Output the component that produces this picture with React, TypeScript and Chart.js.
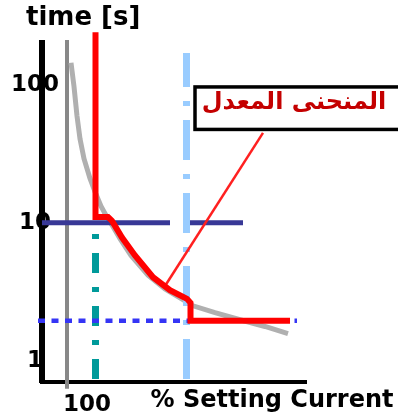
import React, { useEffect, useRef } from 'react';
import { Chart, registerables } from 'chart.js';

Chart.register(...registerables);

const FONT = 'DejaVu Sans';

// Axis ranges (x: % setting current, y: time in seconds, log)
const X_RANGE = [54.5, 319.5];
const Y_RANGE = [0.749, 201.7];
const X_TICKS = [100, 285];
const X_TICK_LABELS = ['100', '% Setting Current'];
const Y_TICKS = [1, 10, 100];
const Y_TICK_LABELS = ['1', '10', '100'];
const TITLE = 'time [s]';

// Modified (red) curve
const RED_X = [108.5, 108.5, 121, 125, 135, 148, 166, 183, 200, 203.5, 203.5, 303];
const RED_Y = [241.8, 11.04, 11.04, 10.33, 7.81, 5.8, 4.03, 3.25, 2.81, 2.63, 1.95, 1.95];

// Original inverse-time (grey) curve
const GRAY_X = [84, 87, 90, 93, 97, 103, 109, 114, 120, 126, 133, 144, 161, 178, 193, 206, 228, 253, 278, 301];
const GRAY_Y = [145, 97.5, 59.5, 40.7, 29.2, 21.0, 16.1, 13.2, 11.0, 9.36, 7.68, 5.8, 4.17, 3.31, 2.85, 2.5, 2.23, 1.98, 1.77, 1.57];

// Asymptote (grey vertical)
const ASYM_X = [80, 80];
const ASYM_Y = [0.625, 212];

// Teal dash-dot vertical
const TEAL_X = [108.5, 108.5];
const TEAL_Y = [0.737, 10];

// Light blue dash-dot vertical
const LBLUE_X = [199.5, 199.5];
const LBLUE_Y = [0.737, 171];

// Navy horizontal at 10 s (with small gap)
const NAVY_X = [55, 183, 192, 199, 256];
const NAVY_Y: (number | null)[] = [10, 10, null, 10, 10];

// Blue dotted horizontal
const DOT_X = [51, 310];
const DOT_Y = [1.95, 1.95];

// Pointer line from callout to curve
const ARROW_X = [276, 178];
const ARROW_Y = [44.9, 3.48];

// Callout box
const CALLOUT_X = [208, 440];
const CALLOUT_Y = [47.6, 96.8];
const CALLOUT_TEXT = 'المنحنى المعدل';
const CALLOUT_TEXT_AT = [307, 66.7];

const pts = (xs: number[], ys: (number | null)[]) => xs.map((x, i) => ({ x, y: ys[i] }));

const calloutPlugin = {
  id: 'callout',
  afterDatasetsDraw(chart: any) {
    const { ctx, scales } = chart;
    const x = scales.x;
    const y = scales.y;
    const l = x.getPixelForValue(CALLOUT_X[0]);
    const r = x.getPixelForValue(CALLOUT_X[1]);
    const t = y.getPixelForValue(CALLOUT_Y[1]);
    const b = y.getPixelForValue(CALLOUT_Y[0]);
    ctx.save();
    ctx.fillStyle = '#ffffff';
    ctx.fillRect(l, t, r - l, b - t);
    ctx.lineWidth = 3.5;
    ctx.strokeStyle = '#000000';
    ctx.strokeRect(l, t, r - l, b - t);
    ctx.fillStyle = '#c40000';
    ctx.font = `bold 24px "${FONT}"`;
    ctx.textAlign = 'center';
    ctx.textBaseline = 'alphabetic';
    ctx.fillText(CALLOUT_TEXT, x.getPixelForValue(CALLOUT_TEXT_AT[0]), y.getPixelForValue(CALLOUT_TEXT_AT[1]));
    ctx.restore();
  },
};

export default function App() {
  const ref = useRef<HTMLCanvasElement>(null);
  useEffect(() => {
    document.body.style.margin = '0';
    const canvas = ref.current;
    if (!canvas) return;
    const base = { showLine: true, pointRadius: 0, pointHoverRadius: 0, fill: false, tension: 0 };
    const datasets: any[] = [
      { label: 'Modified curve', data: pts(RED_X, RED_Y), borderColor: '#ff0000', borderWidth: 6, clip: false },
      { label: 'Pointer', data: pts(ARROW_X, ARROW_Y), borderColor: '#ff2020', borderWidth: 2.5 },
      { label: 'Minimum time', data: pts(DOT_X, DOT_Y), borderColor: '#3535f5', borderWidth: 4.5, borderDash: [7, 6.5], clip: false },
      { label: 'Pickup', data: pts(TEAL_X, TEAL_Y), borderColor: '#009a9a', borderWidth: 7, borderDash: [20, 14, 5, 14] },
      { label: 'Setting', data: pts(LBLUE_X, LBLUE_Y), borderColor: '#99ccff', borderWidth: 7, borderDash: [40, 14, 5, 14] },
      { label: '10 s', data: pts(NAVY_X, NAVY_Y), borderColor: '#383896', borderWidth: 5, spanGaps: false },
      { label: 'Original curve', data: pts(GRAY_X, GRAY_Y), borderColor: '#b0b0b0', borderWidth: 5 },
      { label: 'Asymptote', data: pts(ASYM_X, ASYM_Y), borderColor: '#888888', borderWidth: 4, clip: false },
    ].map((d) => ({ ...base, ...d }));

    const chart = new Chart(canvas, {
      type: 'scatter',
      data: { datasets },
      plugins: [calloutPlugin],
      options: {
        animation: false,
        responsive: true,
        maintainAspectRatio: false,
        events: [],
        layout: { padding: { left: 26, right: 91.5, top: 0, bottom: 0 } },
        plugins: {
          legend: { display: false },
          tooltip: { enabled: false },
          title: {
            display: true,
            text: TITLE,
            align: 'start',
            color: '#000',
            font: { family: FONT, size: 26, weight: 'bold', lineHeight: 1.2 },
            padding: { top: 2.4, bottom: 9.4 },
          },
        },
        scales: {
          x: {
            type: 'linear',
            min: X_RANGE[0],
            max: X_RANGE[1],
            grid: { display: false, drawTicks: false, tickLength: 0 },
            border: { display: true, color: '#000', width: 4 },
            afterBuildTicks: (s: any) => {
              s.ticks = X_TICKS.map((v) => ({ value: v }));
            },
            afterFit: (s: any) => {
              s.height = 38;
              s.paddingLeft = 0;
              s.paddingRight = 0;
            },
            ticks: {
              autoSkip: false,
              maxRotation: 0,
              minRotation: 0,
              padding: 6,
              color: '#000',
              callback: (_v: any, i: number) => X_TICK_LABELS[i],
              font: (c: any) =>
                c.index === 0
                  ? { family: FONT, size: 23, weight: 'bold', lineHeight: 1.48 }
                  : { family: FONT, size: 24, weight: 'bold', lineHeight: 1.08 },
            },
          },
          y: {
            type: 'logarithmic',
            min: Y_RANGE[0],
            max: Y_RANGE[1],
            grid: { display: false, drawTicks: false, tickLength: 0 },
            border: { display: true, color: '#000', width: 6 },
            afterBuildTicks: (s: any) => {
              s.ticks = Y_TICKS.map((v) => ({ value: v }));
            },
            afterFit: (s: any) => {
              s.width = 15.5;
              s.paddingTop = 0;
              s.paddingBottom = 0;
            },
            ticks: {
              autoSkip: false,
              mirror: true,
              padding: -30.5,
              crossAlign: 'center',
              color: '#000',
              callback: (_v: any, i: number) => Y_TICK_LABELS[i],
              font: { family: FONT, size: 23, weight: 'bold' },
            },
          },
        },
      } as any,
    });
    return () => chart.destroy();
  }, []);
  return (
    <div style={{ position: 'relative', width: 398, height: 420 }}>
      <canvas ref={ref} />
    </div>
  );
}
